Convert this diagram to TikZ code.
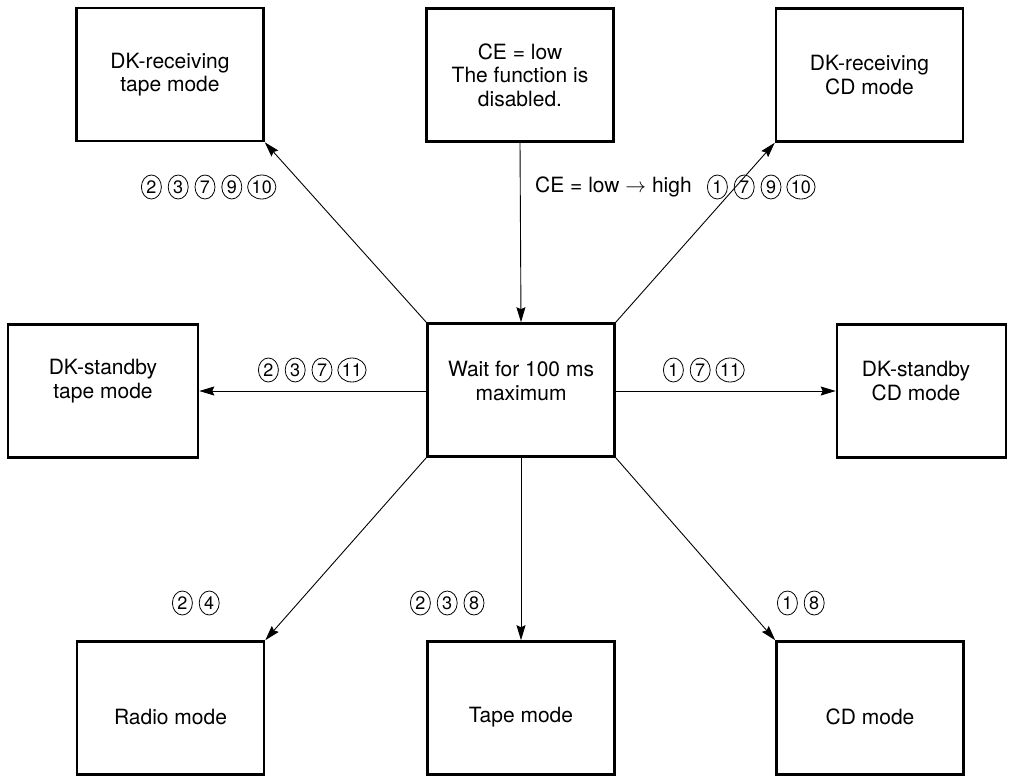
\documentclass[tikz,border=0pt]{standalone}
\usepackage{fontspec}
\setmainfont{TeX Gyre Heros}
\usetikzlibrary{arrows.meta,shapes.geometric,positioning}
\begin{document}
\begin{tikzpicture}[x=1pt,y=-1pt,
  box/.style={draw,line width=2.6pt,minimum width=187pt,minimum height=133pt,inner sep=0pt},
  txt/.style={align=center,font=\fontsize{21}{23.5}\selectfont,inner sep=0pt},
  conn/.style={line width=0.9pt,-{Stealth[length=15pt,width=9pt,inset=2pt]}},
  cn/.style={draw,ellipse,line width=0.8pt,minimum width=20pt,minimum height=24pt,inner sep=0pt,
    font=\fontsize{18}{18}\selectfont},
  cnw/.style={cn,minimum width=25pt},
  lbl/.style={font=\fontsize{21}{23}\selectfont,inner sep=0pt}]
\useasboundingbox (0,0) rectangle (1014,776);

% boxes
\node[box] (tl) at (170,74.5) {};
\node[txt] (tlt) at (170,74.5) {DK-receiving\\tape mode};
\node[box] (ce) at (520,75) {};
\node[txt] (cet) at (520,75) {CE = low\\The function is\\disabled.};
\node[box] (tr) at (869.5,75) {};
\node[txt] (trt) at (869.5,75) {DK-receiving\\CD mode};
\node[box,minimum width=190pt] (lm) at (103,391) {};
\node[txt] (lmt) at (103,381) {DK-standby\\tape mode};
\node[box] (ctr) at (521,390) {};
\node[txt] (ctrt) at (521,381) {Wait for 100 ms\\maximum};
\node[box,minimum width=169pt] (rm) at (921.5,391) {};
\node[txt] (rmt) at (916,381) {DK-standby\\CD mode};
\node[box] (bl) at (170.5,708) {};
\node[txt] (blt) at (170.5,717) {Radio mode};
\node[box] (bc) at (521,708) {};
\node[txt] (bct) at (521,717) {Tape mode};
\node[box] (br) at (870,708) {};
\node[txt] (brt) at (870,717) {CD mode};

% connectors
\draw[conn] (ce.south) -- (ctr.north);
\draw[conn] (ctr.north west) -- (tl.south east);
\draw[conn] (ctr.north east) -- (tr.south west);
\draw[conn] (ctr.west |- lm.east) -- (lm.east);
\draw[conn] (ctr.east |- rm.west) -- (rm.west);
\draw[conn] (ctr.south west) -- (bl.north east);
\draw[conn] (ctr.south) -- (bc.north);
\draw[conn] (ctr.south east) -- (br.north west);

% labels
\node[lbl,anchor=west] (celbl) at (535,187) {CE = low $\rightarrow$ high};

\node[cn,anchor=west] (a1) at (141,187) {2};
\node[cn,right=6pt of a1] (a2) {3};
\node[cn,right=6pt of a2] (a3) {7};
\node[cn,right=6pt of a3] (a4) {9};
\node[cnw,right=5pt of a4] (a5) {10};

\node[cn,anchor=west] (b1) at (707,187) {1};
\node[cn,right=6pt of b1] (b2) {7};
\node[cn,right=6pt of b2] (b3) {9};
\node[cnw,right=5pt of b3] (b4) {10};

\node[cn,anchor=west] (c1) at (258,370) {2};
\node[cn,right=6pt of c1] (c2) {3};
\node[cn,right=6pt of c2] (c3) {7};
\node[cnw,right=5pt of c3] (c4) {11};

\node[cn,anchor=west] (d1) at (663,370) {1};
\node[cn,right=6pt of d1] (d2) {7};
\node[cnw,right=5pt of d2] (d3) {11};

\node[cn,anchor=west] (e1) at (172,603) {2};
\node[cn,right=6pt of e1] (e2) {4};

\node[cn,anchor=west] (f1) at (410,603) {2};
\node[cn,right=6pt of f1] (f2) {3};
\node[cn,right=6pt of f2] (f3) {8};

\node[cn,anchor=west] (g1) at (777,603) {1};
\node[cn,right=6pt of g1] (g2) {8};
\end{tikzpicture}
\end{document}
